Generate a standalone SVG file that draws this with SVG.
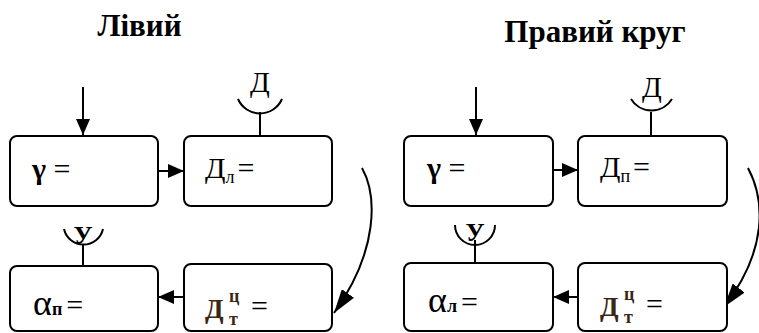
<svg xmlns="http://www.w3.org/2000/svg" width="759" height="333" viewBox="0 0 759 333">
<style>
.box{fill:#fff;stroke:#000;stroke-width:2}
.ln{fill:none;stroke:#000;stroke-width:2}
text{font-family:"Liberation Serif","Times New Roman",serif;fill:#000}
.title{font-size:31px;font-weight:bold}
.sym{font-size:29px}
.ub{font-size:26px;font-weight:bold}
.big{font-size:30px}
.sub{font-size:18px}
.d{fill:#3a2614;font-weight:bold}
</style>
<defs>
<marker id="ah" markerWidth="16" markerHeight="14" refX="16" refY="7" orient="auto" markerUnits="userSpaceOnUse">
<path d="M0,0 L16,7 L0,14 Z" fill="#000"/>
</marker>
<marker id="ahc" markerWidth="24" markerHeight="15" refX="24" refY="7.5" orient="auto" markerUnits="userSpaceOnUse">
<path d="M0,0 L24,7.5 L0,15 Z" fill="#000"/>
</marker>
</defs>

<g id="titles">
<text class="title" x="139.5" y="36" text-anchor="middle">Лівий</text>
<text class="title" x="595" y="42" text-anchor="middle">Правий круг</text>
</g>

<g id="connectors">
<line class="ln" x1="83" y1="87" x2="83" y2="135" marker-end="url(#ah)"/>
<line class="ln" x1="158" y1="171" x2="184" y2="171" marker-end="url(#ah)"/>
<line class="ln" x1="184" y1="297" x2="158" y2="297" marker-end="url(#ah)"/>
<path class="ln" d="M362,168 C377,195 379,250 334,313" marker-end="url(#ahc)"/>
<line class="ln" x1="260" y1="112" x2="260" y2="135"/>
<line class="ln" x1="83" y1="244" x2="83" y2="266"/>

<line class="ln" x1="476" y1="87" x2="476" y2="135" marker-end="url(#ah)"/>
<line class="ln" x1="553" y1="170" x2="578" y2="170" marker-end="url(#ah)"/>
<line class="ln" x1="578" y1="297" x2="553" y2="297" marker-end="url(#ah)"/>
<path class="ln" d="M748,168 C765,200 768,250 724,307" marker-end="url(#ahc)"/>
<line class="ln" x1="651" y1="112" x2="651" y2="135"/>
<line class="ln" x1="475" y1="240" x2="475" y2="263"/>
</g>

<g id="left-gamma">
<rect class="box" x="10" y="136" width="148" height="70" rx="7"/>
<text class="big" x="32" y="179"><tspan font-weight="bold">γ</tspan> =</text>
</g>
<g id="left-D">
<rect class="box" x="184" y="136" width="148" height="70" rx="7"/>
<text class="big" x="205" y="178">Д<tspan class="sub" dy="5">л</tspan><tspan dy="-5" dx="3">=</tspan></text>
</g>
<g id="left-D-sight">
<path class="ln" d="M238,99 A24,24 0 0 0 282,99"/>
<text class="sym" x="260" y="92" text-anchor="middle">Д</text>
</g>
<g id="left-alpha">
<rect class="box" x="10" y="266" width="148" height="65" rx="7"/>
<text x="33" y="315"><tspan font-size="36">α</tspan><tspan font-size="18" font-weight="bold">п</tspan><tspan font-size="30" dx="4">=</tspan></text>
</g>
<g id="left-U-sight">
<path class="ln" d="M64,229 A20,20 0 0 0 103,229"/>
<text class="ub" x="83" y="244" text-anchor="middle">У</text>
</g>
<g id="left-Dt">
<rect class="box" x="184" y="264" width="148" height="67" rx="7"/>
<text class="d" x="205" y="318" font-size="27">Д</text>
<text class="d" x="229" y="302" font-size="18">ц</text>
<text class="d" x="229" y="325" font-size="18">т</text>
<text x="251" y="316" font-size="30">=</text>
</g>

<g id="right-gamma">
<rect class="box" x="404" y="136" width="149" height="70" rx="7"/>
<text class="big" x="427" y="178"><tspan font-weight="bold">γ</tspan> =</text>
</g>
<g id="right-D">
<rect class="box" x="578" y="136" width="149" height="70" rx="7"/>
<text class="big" x="600" y="177">Д<tspan class="sub" dy="5">п</tspan><tspan dy="-5" dx="3">=</tspan></text>
</g>
<g id="right-D-sight">
<path class="ln" d="M631,99 A24,24 0 0 0 672,99"/>
<text class="sym" x="652" y="97" text-anchor="middle">Д</text>
</g>
<g id="right-alpha">
<rect class="box" x="404" y="263" width="149" height="68" rx="7"/>
<text x="428" y="312"><tspan font-size="36">α</tspan><tspan font-size="18" font-weight="bold">л</tspan><tspan font-size="30" dx="4">=</tspan></text>
</g>
<g id="right-U-sight">
<path class="ln" d="M455,225 A20,20 0 0 0 495,225"/>
<text class="ub" x="475" y="241" text-anchor="middle">У</text>
</g>
<g id="right-Dt">
<rect class="box" x="578" y="263" width="149" height="68" rx="7"/>
<text class="d" x="600" y="316" font-size="27">Д</text>
<text class="d" x="624" y="300" font-size="18">ц</text>
<text class="d" x="624" y="323" font-size="18">т</text>
<text x="646" y="314" font-size="30">=</text>
</g>
</svg>
